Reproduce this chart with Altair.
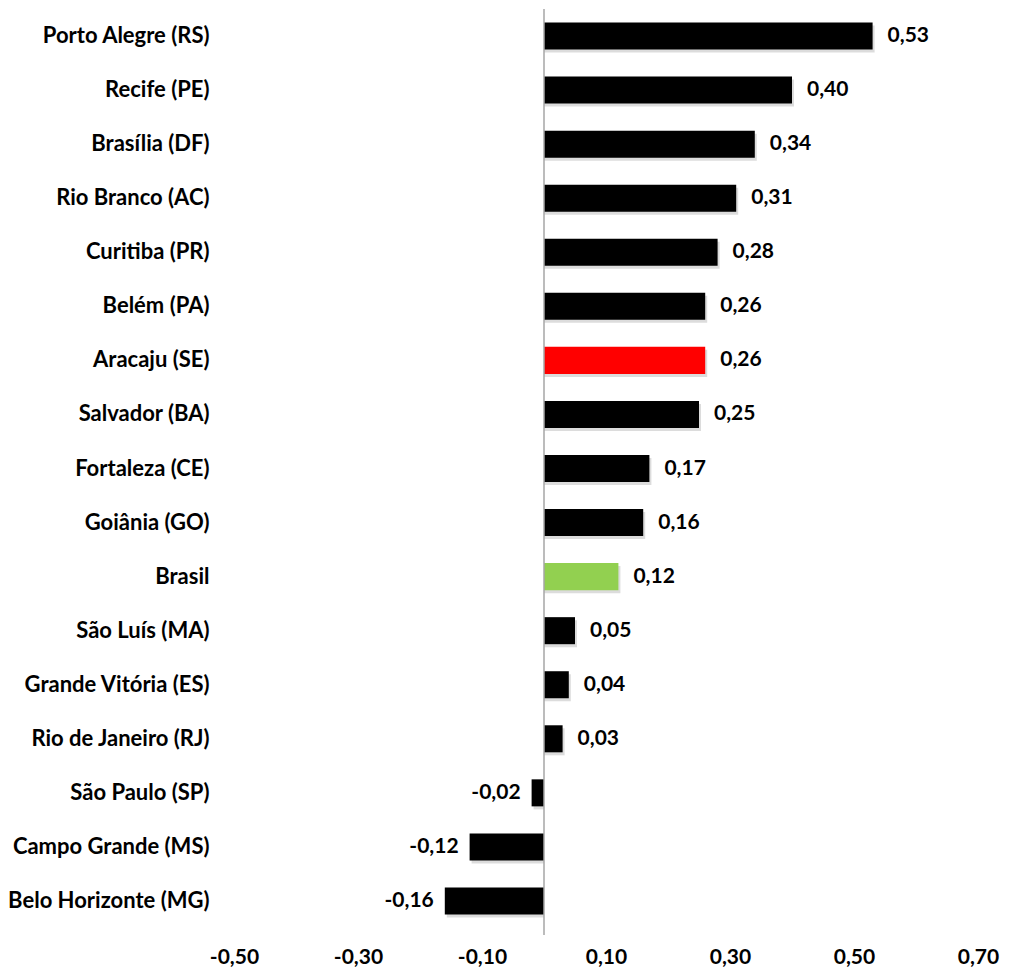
import altair as alt
import pandas as pd

cities = ["Porto Alegre (RS)", "Recife (PE)", "Brasília (DF)", "Rio Branco (AC)",
          "Curitiba (PR)", "Belém (PA)", "Aracaju (SE)", "Salvador (BA)",
          "Fortaleza (CE)", "Goiânia (GO)", "Brasil", "São Luís (MA)",
          "Grande Vitória (ES)", "Rio de Janeiro (RJ)", "São Paulo (SP)",
          "Campo Grande (MS)", "Belo Horizonte (MG)"]
values = [0.53, 0.40, 0.34, 0.31, 0.28, 0.26, 0.26, 0.25, 0.17, 0.16, 0.12,
          0.05, 0.04, 0.03, -0.02, -0.12, -0.16]
groups = ["other"] * 6 + ["Aracaju"] + ["other"] * 3 + ["Brasil"] + ["other"] * 6
tick_values = [-0.50, -0.30, -0.10, 0.10, 0.30, 0.50, 0.70]

def fmt(v):
    s = f"{abs(v):.2f}".replace(".", ",")
    return ("-" if v < 0 else "") + s

df = pd.DataFrame({
    "city": cities,
    "value": values,
    "group": groups,
    "label": [fmt(v) for v in values],
})

FONT = "Lato"
FS = 21
W, H = 744, 919

x_scale = alt.Scale(domain=[-0.5, 0.7], nice=False, zero=False)
y_scale = alt.Scale(domain=cities, paddingInner=0.5, paddingOuter=0.25)

base = alt.Chart(df)

shadow = base.mark_bar(color="#8c8c8c", opacity=0.3, xOffset=2, yOffset=3).encode(
    x=alt.X("value:Q", scale=x_scale),
    x2=alt.datum(0),
    y=alt.Y("city:N", scale=y_scale),
)

bars = base.mark_bar().encode(
    x=alt.X("value:Q", scale=x_scale,
            axis=alt.Axis(values=tick_values, title=None, domain=False, ticks=False,
                          grid=False, labelPadding=18, labelFontSize=FS, labelFlush=False,
                          labelFontWeight="bold", labelFont=FONT, labelColor="#000000",
                          labelExpr="(datum.value < 0 ? '-' : '') + replace(format(abs(datum.value), '.2f'), '.', ',')")),
    x2=alt.datum(0),
    y=alt.Y("city:N", scale=y_scale, sort=cities,
            axis=alt.Axis(title=None, domain=False, ticks=False, grid=False,
                          labelPadding=25, labelFontSize=22, labelFontWeight="bold",
                          labelFont=FONT, labelColor="#000000", labelLimit=400)),
    color=alt.Color("group:N",
                    scale=alt.Scale(domain=["other", "Aracaju", "Brasil"],
                                    range=["#000000", "#FF0000", "#92D050"]),
                    legend=None),
)

zero_rule = alt.Chart(pd.DataFrame({"z": [0]})).mark_rule(color="#a6a6a6", strokeWidth=1.5).encode(
    x=alt.X("z:Q", scale=x_scale),
    y=alt.value(0),
    y2=alt.value(H + 7),
)

pos_text = base.transform_filter("datum.value >= 0").mark_text(
    align="left", baseline="middle", dx=15, fontSize=FS, fontWeight="bold", font=FONT, color="#000000"
).encode(
    x=alt.X("value:Q", scale=x_scale),
    y=alt.Y("city:N", scale=y_scale),
    text="label:N",
)

neg_text = base.transform_filter("datum.value < 0").mark_text(
    align="right", baseline="middle", dx=-11, fontSize=FS, fontWeight="bold", font=FONT, color="#000000"
).encode(
    x=alt.X("value:Q", scale=x_scale),
    y=alt.Y("city:N", scale=y_scale),
    text="label:N",
)

chart = alt.layer(shadow, bars, zero_rule, pos_text, neg_text).properties(
    width=W, height=H,
    autosize=alt.AutoSizeParams(type="none"),
    padding={"top": 1, "left": 226, "right": 22, "bottom": 40},
    background="white",
).configure_view(strokeWidth=0, stroke=None)

chart.save("out.html", embed_options={"renderer": "svg", "actions": False})
